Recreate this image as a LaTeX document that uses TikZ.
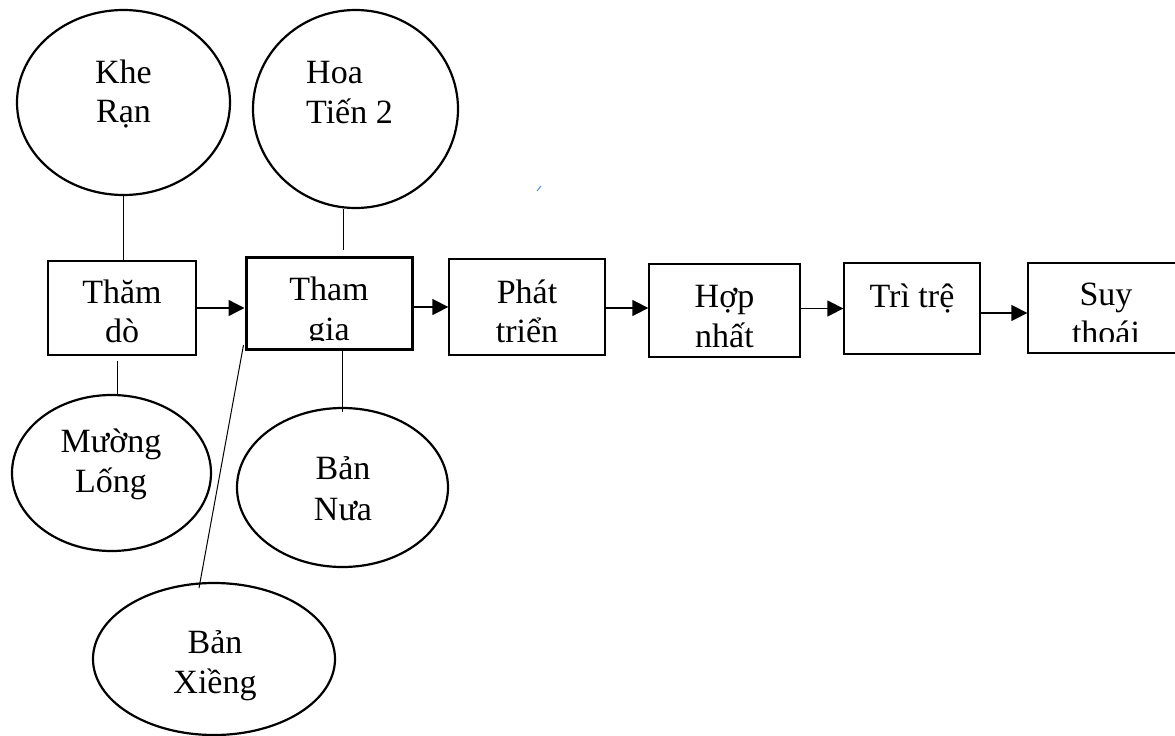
\documentclass[tikz,border=0pt]{standalone}
\usepackage{fontspec}
\setmainfont{Liberation Serif}
\usetikzlibrary{shapes.geometric,arrows.meta,calc}
\begin{document}
\begin{tikzpicture}[x=1pt,y=-1pt,
  font=\fontsize{34}{40}\selectfont,
  txt/.style={anchor=base,inner sep=0pt},
  bubble/.style={ellipse,draw,line width=2.2pt,inner sep=0pt},
  stagebox/.style={rectangle,draw,line width=1.3pt,inner sep=0pt},
  link/.style={line width=1pt},
  arr/.style={line width=1.4pt,-{Triangle[length=16pt,width=16pt]}}]
\useasboundingbox (0,0) rectangle (1175,736);
% stage boxes
\node[stagebox,minimum width=148pt,minimum height=94pt] (b1) at (122,308) {};
\node[stagebox,line width=3pt,minimum width=166pt,minimum height=92pt] (b2) at (329,303) {};
\node[stagebox,minimum width=156pt,minimum height=96pt] (b3) at (527,307) {};
\node[stagebox,minimum width=151pt,minimum height=93pt] (b4) at (724.5,310.5) {};
\node[stagebox,minimum width=136pt,minimum height=91pt] (b5) at (912,308.5) {};
\node[stagebox,minimum width=156pt,minimum height=90pt] (b6) at (1106,308) {};
% box texts
\node[txt] (t1a) at (122,303) {Thăm};
\node[txt] (t1b) at (122,342) {dò};
\begin{scope}
\clip (248,259) rectangle (411,340);
\node[txt] (t2a) at (329,300) {Tham};
\node[txt] (t2b) at (329,340) {gia};
\end{scope}
\node[txt] (t3a) at (527,303) {Phát};
\node[txt] (t3b) at (527,342) {triển};
\node[txt] (t4a) at (724.5,307) {Hợp};
\node[txt] (t4b) at (724.5,347) {nhất};
\node[txt] (t5a) at (912,307) {Trì trệ};
\begin{scope}
\clip (1030,265) rectangle (1175,341);
\node[txt] (t6a) at (1106,305) {Suy};
\node[txt] (t6b) at (1106,344) {thoái};
\end{scope}
% arrows
\draw[arr] (b1.east) -- (b2.west |- b1.east);
\draw[arr] (b2.east |- b3.west) -- (b3.west);
\draw[arr] ($(b3.east)+(0,1)$) -- ($(b4.west |- b3.east)+(0,1)$);
\draw[arr] (b4.east |- b5.west) -- (b5.west);
\draw[arr] ($(b5.east)+(0,4.5)$) -- ($(b6.west |- b5.east)+(0,4.5)$);
% ellipses
\node[bubble,minimum width=213pt,minimum height=185pt] (e1) at (123.5,102.5) {};
\node[bubble,minimum width=205pt,minimum height=198pt] (e2) at (355.5,109) {};
\node[bubble,minimum width=199pt,minimum height=156pt] (e3) at (111.5,473) {};
\node[bubble,minimum width=211pt,minimum height=159pt] (e4) at (342.5,487.5) {};
\node[bubble,minimum width=242pt,minimum height=152pt] (e5) at (214,659) {};
% ellipse texts
\node[txt] (k1) at (123.5,83) {Khe};
\node[txt] (k2) at (123.5,122) {Rạn};
\node[txt,anchor=base west] (h1) at (306,83) {Hoa};
\node[txt,anchor=base west] (h2) at (306,123) {Tiến 2};
\node[txt] (m1) at (111,452) {Mường};
\node[txt] (m2) at (111,492) {Lống};
\node[txt] (n1) at (343,479) {Bản};
\node[txt] (n2) at (343,520) {Nưa};
\node[txt] (x1) at (215,653) {Bản};
\node[txt] (x2) at (215,693) {Xiềng};
% connectors
\draw[link] (e1.south) -- (e1.south |- b1.north);
\coordinate (hc) at (343,250);
\draw[link] (e2.south -| hc) -- (hc);
\coordinate (mc) at (117,361);
\draw[link] (mc) -- (e3.north -| mc);
\draw[link] (b2.south -| e4.north) -- ($(e4.north)+(0,5)$);
\coordinate (xa) at (199,588);
\coordinate (xb) at (243.5,345);
\draw[link] (xa) -- (xb);
% stray tick
\coordinate (sa) at (537,191);
\coordinate (sb) at (541,186);
\draw[line width=1pt,color={rgb,255:red,80;green,140;blue,220}] (sa) -- (sb);
\end{tikzpicture}
\end{document}
